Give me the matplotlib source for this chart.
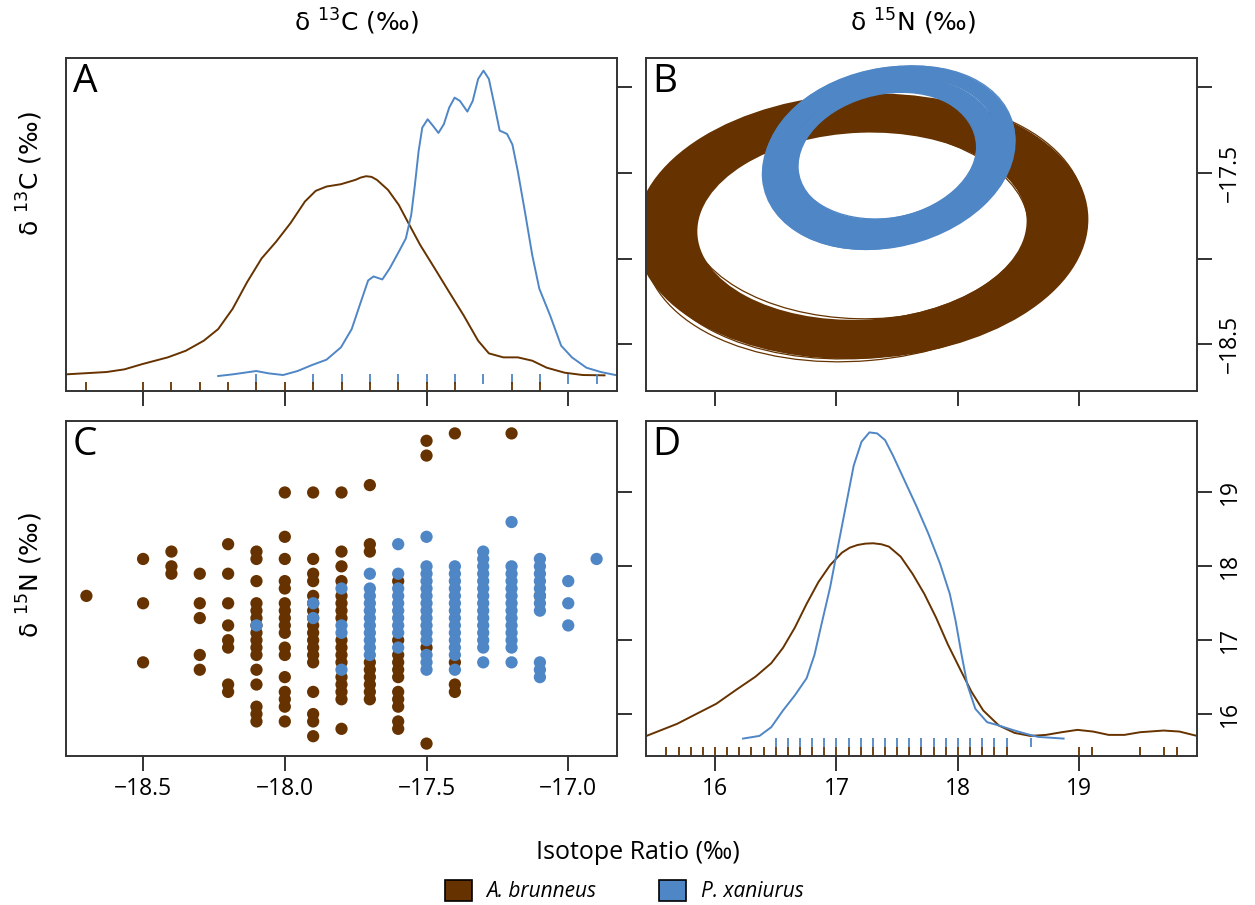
import numpy as np
import matplotlib
matplotlib.use("Agg")
import matplotlib.pyplot as plt
from matplotlib.patches import Ellipse, Patch

plt.rcParams['font.family'] = ['Open Sans', 'DejaVu Sans']

BROWN = '#663300'
BLUE = '#4F86C6'
species = ['A. brunneus', 'P. xaniurus']

# --- raw data (panel C): d13C column -> list of d15N values ---
brunneus_pts = {
    -18.7: [17.6],
    -18.5: [18.1, 17.5, 16.7],
    -18.4: [18.2, 18.0, 17.9],
    -18.3: [17.9, 17.5, 17.3, 16.8, 16.6],
    -18.2: [18.3, 17.9, 17.5, 17.2, 17.0, 16.9, 16.4, 16.3],
    -18.1: [18.2, 18.1, 17.8, 17.5, 17.4, 17.3, 17.2, 17.1, 17.0, 16.9, 16.8, 16.6, 16.4, 16.1, 16.0, 15.9],
    -18.0: [19.0, 18.4, 18.1, 17.8, 17.7, 17.5, 17.4, 17.3, 17.2, 17.1, 16.9, 16.8, 16.5, 16.3, 16.2, 16.1, 15.9],
    -17.9: [19.0, 18.1, 17.9, 17.8, 17.6, 17.5, 17.4, 17.3, 17.2, 17.1, 17.0, 16.9, 16.8, 16.7, 16.3, 16.0, 15.9, 15.7],
    -17.8: [19.0, 18.2, 18.0, 17.8, 17.6, 17.5, 17.4, 17.3, 17.0, 16.9, 16.8, 16.7, 16.5, 16.4, 16.3, 16.2, 15.8],
    -17.7: [19.1, 18.3, 18.2, 16.7, 16.6, 16.5, 16.4, 16.3, 16.2],
    -17.6: [17.8, 17.0, 16.8, 16.7, 16.6, 16.5, 16.3, 16.2, 16.1, 15.9, 15.8],
    -17.5: [19.7, 19.5, 16.9, 15.6],
    -17.4: [19.8, 16.7, 16.4, 16.3],
    -17.2: [19.8],
    -17.1: [17.6],
}
xaniurus_pts = {
    -18.1: [17.2],
    -17.9: [17.5, 17.3],
    -17.8: [17.7, 17.2, 17.1, 16.6],
    -17.7: [17.9, 17.7, 17.6, 17.5, 17.4, 17.3, 17.2, 17.1, 17.0, 16.9, 16.8],
    -17.6: [18.3, 17.9, 17.7, 17.6, 17.5, 17.4, 17.3, 17.2, 17.1, 16.9],
    -17.5: [18.4, 18.0, 17.9, 17.8, 17.7, 17.6, 17.5, 17.4, 17.3, 17.2, 17.1, 17.0, 16.8, 16.7, 16.6],
    -17.4: [18.0, 17.9, 17.8, 17.7, 17.6, 17.5, 17.4, 17.3, 17.2, 17.1, 17.0, 16.9, 16.8, 16.6],
    -17.3: [18.2, 18.1, 18.0, 17.9, 17.8, 17.7, 17.6, 17.5, 17.4, 17.3, 17.2, 17.1, 17.0, 16.9, 16.7],
    -17.2: [18.6, 18.0, 17.9, 17.8, 17.7, 17.6, 17.5, 17.4, 17.3, 17.2, 17.1, 17.0, 16.9, 16.7],
    -17.1: [18.1, 18.0, 17.9, 17.8, 17.7, 17.6, 17.5, 17.4, 16.7, 16.6, 16.5],
    -17.0: [17.8, 17.5, 17.2],
    -16.9: [18.1],
}

# --- kernel density curves (height = fraction of panel height) ---
brun_c_x = [-18.772, -18.629, -18.566, -18.502, -18.413, -18.349, -18.286, -18.235, -18.184, -18.133,
            -18.082, -18.031, -17.980, -17.929, -17.891, -17.853, -17.802, -17.751, -17.732, -17.713,
            -17.694, -17.675, -17.636, -17.598, -17.560, -17.522, -17.471, -17.420, -17.369, -17.318,
            -17.280, -17.229, -17.178, -17.127, -17.076, -17.013, -16.949, -16.872]
brun_c_y = [0.050, 0.057, 0.065, 0.081, 0.101, 0.121, 0.151, 0.186, 0.247, 0.327,
            0.398, 0.448, 0.504, 0.569, 0.601, 0.614, 0.621, 0.634, 0.641, 0.645,
            0.643, 0.634, 0.604, 0.559, 0.498, 0.438, 0.368, 0.297, 0.227, 0.151,
            0.113, 0.101, 0.101, 0.091, 0.070, 0.055, 0.048, 0.047]
xani_c_x = [-18.235, -18.184, -18.101, -18.057, -18.006, -17.955, -17.904, -17.853, -17.802, -17.764,
            -17.732, -17.706, -17.687, -17.656, -17.630, -17.598, -17.573, -17.554, -17.541, -17.528,
            -17.515, -17.496, -17.477, -17.458, -17.439, -17.420, -17.401, -17.382, -17.356, -17.337,
            -17.318, -17.299, -17.280, -17.261, -17.242, -17.216, -17.197, -17.178, -17.153, -17.127,
            -17.102, -17.064, -17.025, -16.987, -16.936, -16.885, -16.828]
xani_c_y = [0.045, 0.050, 0.060, 0.053, 0.048, 0.060, 0.078, 0.094, 0.131, 0.186,
            0.267, 0.332, 0.344, 0.335, 0.368, 0.418, 0.458, 0.529, 0.619, 0.720,
            0.791, 0.816, 0.796, 0.775, 0.801, 0.851, 0.881, 0.871, 0.839, 0.871,
            0.937, 0.962, 0.937, 0.861, 0.782, 0.772, 0.740, 0.660, 0.539, 0.408,
            0.307, 0.227, 0.136, 0.101, 0.070, 0.057, 0.047]
brun_n_x = [15.436, 15.688, 15.849, 16.011, 16.172, 16.334, 16.463, 16.560, 16.657, 16.754,
            16.851, 16.948, 17.045, 17.110, 17.174, 17.240, 17.303, 17.370, 17.432, 17.529,
            17.626, 17.723, 17.820, 17.917, 18.014, 18.111, 18.208, 18.337, 18.466, 18.595,
            18.724, 18.854, 18.983, 19.112, 19.241, 19.370, 19.500, 19.693, 19.823, 19.968]
brun_n_y = [0.060, 0.096, 0.126, 0.156, 0.197, 0.237, 0.277, 0.323, 0.383, 0.454,
            0.519, 0.570, 0.607, 0.622, 0.630, 0.634, 0.635, 0.632, 0.625, 0.595,
            0.544, 0.484, 0.413, 0.333, 0.262, 0.192, 0.136, 0.091, 0.069, 0.060,
            0.063, 0.071, 0.078, 0.073, 0.063, 0.063, 0.071, 0.076, 0.073, 0.060]
xani_n_x = [16.231, 16.366, 16.463, 16.560, 16.657, 16.754, 16.819, 16.883, 16.948, 17.012,
            17.077, 17.142, 17.206, 17.271, 17.335, 17.400, 17.465, 17.529, 17.594, 17.658,
            17.755, 17.852, 17.933, 17.981, 18.030, 18.078, 18.143, 18.240, 18.337, 18.466,
            18.563, 18.660, 18.870]
xani_n_y = [0.052, 0.060, 0.086, 0.136, 0.181, 0.232, 0.302, 0.403, 0.504, 0.625,
            0.746, 0.867, 0.938, 0.966, 0.963, 0.943, 0.897, 0.847, 0.796, 0.746,
            0.665, 0.575, 0.484, 0.403, 0.302, 0.212, 0.141, 0.101, 0.091, 0.076,
            0.066, 0.057, 0.052]

# --- posterior standard ellipses (panel B): x = d15N, y = d13C ---
brun_ell_cx = [17.21, 17.20, 17.22, 17.21, 17.20, 17.21, 17.22, 17.21, 17.20, 17.21, 17.22, 17.21, 17.20, 17.21]
brun_ell_cy = [-17.81, -17.80, -17.81, -17.82, -17.81, -17.80, -17.81, -17.82, -17.81, -17.80, -17.81, -17.82, -17.81, -17.81]
brun_ell_w = [2.78, 2.85, 2.91, 2.98, 3.05, 3.12, 3.18, 3.25, 3.32, 3.39, 3.46, 3.52, 3.59, 3.66]
brun_ell_h = [1.14, 1.17, 1.19, 1.22, 1.25, 1.28, 1.30, 1.33, 1.36, 1.39, 1.42, 1.44, 1.47, 1.50]
brun_ell_ang = [1.5, 2.0, 1.5, 1.0, 1.5, 2.0, 1.5, 1.0, 2.0, 1.5, 1.0, 1.5, 2.0, 1.5]
# a few outlying draws that show as thin lines
brun_odd_cx = [17.23, 17.18, 17.22]
brun_odd_cy = [-17.83, -17.79, -17.82]
brun_odd_w = [3.64, 2.80, 3.58]
brun_odd_h = [1.53, 1.12, 1.52]
brun_odd_ang = [3.5, -1.0, 3.0]
xani_ell_cx = [17.42, 17.41, 17.42, 17.43, 17.42, 17.41, 17.42, 17.43, 17.42, 17.41, 17.42, 17.43]
xani_ell_cy = [-17.40, -17.40, -17.41, -17.40, -17.39, -17.40, -17.41, -17.40, -17.39, -17.40, -17.40, -17.41]
xani_ell_w = [1.52, 1.57, 1.62, 1.66, 1.71, 1.76, 1.81, 1.86, 1.90, 1.95, 2.00, 2.05]
xani_ell_h = [0.76, 0.78, 0.81, 0.83, 0.86, 0.88, 0.90, 0.93, 0.95, 0.98, 1.00, 1.02]
xani_ell_ang = [6, 5, 6, 7, 6, 5, 6, 7, 6, 5, 6, 7]
xani_odd_cx = [17.44, 17.40]
xani_odd_cy = [-17.41, -17.39]
xani_odd_w = [2.07, 1.51]
xani_odd_h = [1.04, 0.75]
xani_odd_ang = [8, 4]

d13c_ticks = [-18.5, -18.0, -17.5, -17.0]
d15n_ticks = [16, 17, 18, 19]


def expand(pts):
    xs, ys = [], []
    for k, vals in pts.items():
        xs += [k] * len(vals)
        ys += vals
    return np.array(xs), np.array(ys)


bx, by = expand(brunneus_pts)
px, py = expand(xaniurus_pts)


def pad(vals):
    lo, hi = min(vals), max(vals)
    r = hi - lo
    return lo - 0.04 * r, hi + 0.04 * r


c_lim = pad(np.concatenate([bx, px]))
n_lim = pad(np.concatenate([by, py]))

fig = plt.figure(figsize=(12.55, 9.05), dpi=100)
W, H = 1255.0, 905.0


def box(l, t, r, b):
    return [l / W, 1 - b / H, (r - l) / W, (b - t) / H]


ax_a = fig.add_axes(box(66, 58, 617, 391))
ax_b = fig.add_axes(box(646, 58, 1197, 391))
ax_c = fig.add_axes(box(66, 421, 617, 756))
ax_d = fig.add_axes(box(646, 421, 1197, 756))


def style(ax, xt, yt, xlab=None, ylab=None):
    for s in ax.spines.values():
        s.set_color('#333333')
        s.set_linewidth(1.4)
    ax.set_xticks(xt)
    ax.set_yticks(yt)
    ax.tick_params(direction='out', length=11, width=1.3, color='#222222',
                   bottom=True, top=False, left=False, right=True,
                   labelbottom=xlab is not None, labelleft=False,
                   labelright=ylab is not None, labelsize=16.5, pad=4)
    if xlab is not None:
        ax.set_xticklabels(xlab)
    if ylab is not None:
        ax.set_yticklabels(ylab, rotation=90, va='center')


def minus(v, fmt):
    s = fmt % abs(v)
    return '\u2212' + s if v < 0 else s


def ellipses(ax, cxs, cys, ws, hs, angs, colour, lw):
    for cx, cy, w, h, a in zip(cxs, cys, ws, hs, angs):
        ax.add_patch(Ellipse((cx, cy), w, h, angle=a, fill=False, edgecolor=colour, lw=lw))


# A: d13C densities
t = ax_a.get_xaxis_transform()
ax_a.plot(brun_c_x, brun_c_y, color=BROWN, lw=1.4, transform=t, solid_joinstyle='round')
ax_a.plot(xani_c_x, xani_c_y, color=BLUE, lw=1.4, transform=t, solid_joinstyle='round')
ax_a.vlines(np.unique(px), 0.02, 0.05, color=BLUE, lw=1.3, transform=t)
ax_a.vlines(np.unique(bx), 0.0, 0.026, color=BROWN, lw=1.3, transform=t)
ax_a.set_xlim(c_lim)
ax_a.set_ylim(c_lim)
style(ax_a, d13c_ticks, d13c_ticks)

# B: ellipses
ellipses(ax_b, brun_ell_cx, brun_ell_cy, brun_ell_w, brun_ell_h, brun_ell_ang, BROWN, 6.0)
ellipses(ax_b, brun_odd_cx, brun_odd_cy, brun_odd_w, brun_odd_h, brun_odd_ang, BROWN, 0.9)
ellipses(ax_b, xani_ell_cx, xani_ell_cy, xani_ell_w, xani_ell_h, xani_ell_ang, BLUE, 4.5)
ellipses(ax_b, xani_odd_cx, xani_odd_cy, xani_odd_w, xani_odd_h, xani_odd_ang, BLUE, 0.9)
ax_b.set_xlim(n_lim)
ax_b.set_ylim(c_lim)
style(ax_b, d15n_ticks, d13c_ticks,
      ylab=[minus(v, '%.1f') if v in (-18.5, -17.5) else '' for v in d13c_ticks])

# C: scatter
ax_c.scatter(bx, by, s=78, color=BROWN, edgecolors='none', zorder=2)
ax_c.scatter(px, py, s=78, color=BLUE, edgecolors='none', zorder=3)
ax_c.set_xlim(c_lim)
ax_c.set_ylim(n_lim)
style(ax_c, d13c_ticks, d15n_ticks, xlab=[minus(v, '%.1f') for v in d13c_ticks])

# D: d15N densities
t = ax_d.get_xaxis_transform()
ax_d.plot(brun_n_x, brun_n_y, color=BROWN, lw=1.4, transform=t, solid_joinstyle='round')
ax_d.plot(xani_n_x, xani_n_y, color=BLUE, lw=1.4, transform=t, solid_joinstyle='round')
ax_d.vlines(np.unique(py), 0.027, 0.054, color=BLUE, lw=1.3, transform=t)
ax_d.vlines(np.unique(by), 0.003, 0.027, color=BROWN, lw=1.3, transform=t)
ax_d.set_xlim(n_lim)
ax_d.set_ylim(n_lim)
style(ax_d, d15n_ticks, d15n_ticks,
      xlab=[str(v) for v in d15n_ticks], ylab=[str(v) for v in d15n_ticks])

for ax, letter in zip([ax_a, ax_b, ax_c, ax_d], 'ABCD'):
    ax.text(0.012, 0.985, letter, transform=ax.transAxes, fontsize=28,
            ha='left', va='top')

lab_font = ['Liberation Sans Narrow', 'DejaVu Sans']
c_label = 'δ $\\mathregular{^{13}}$C (‰)'
n_label = 'δ $\\mathregular{^{15}}$N (‰)'
fig.text(356 / W, 1 - 22 / H, c_label, fontsize=18, ha='center', va='center', family=lab_font)
fig.text(913 / W, 1 - 22 / H, n_label, fontsize=18, ha='center', va='center', family=lab_font)
fig.text(30 / W, 1 - 174 / H, c_label, fontsize=18, ha='center', va='center', rotation=90, family=lab_font)
fig.text(30 / W, 1 - 575 / H, n_label, fontsize=18, ha='center', va='center', rotation=90, family=lab_font)
fig.text(638 / W, 1 - 852 / H, 'Isotope Ratio (‰)', fontsize=18, ha='center', va='center')

handles = [Patch(facecolor=BROWN, edgecolor='black', lw=1.2),
           Patch(facecolor=BLUE, edgecolor='black', lw=1.2)]
fig.legend(handles, species, loc='center', bbox_to_anchor=(624 / W, 1 - 891 / H), ncol=2,
           frameon=False, prop={'style': 'italic', 'size': 15}, handlelength=1.3,
           handleheight=1.2, columnspacing=3.0, handletextpad=0.7)

fig.savefig('out.png', dpi=100)
